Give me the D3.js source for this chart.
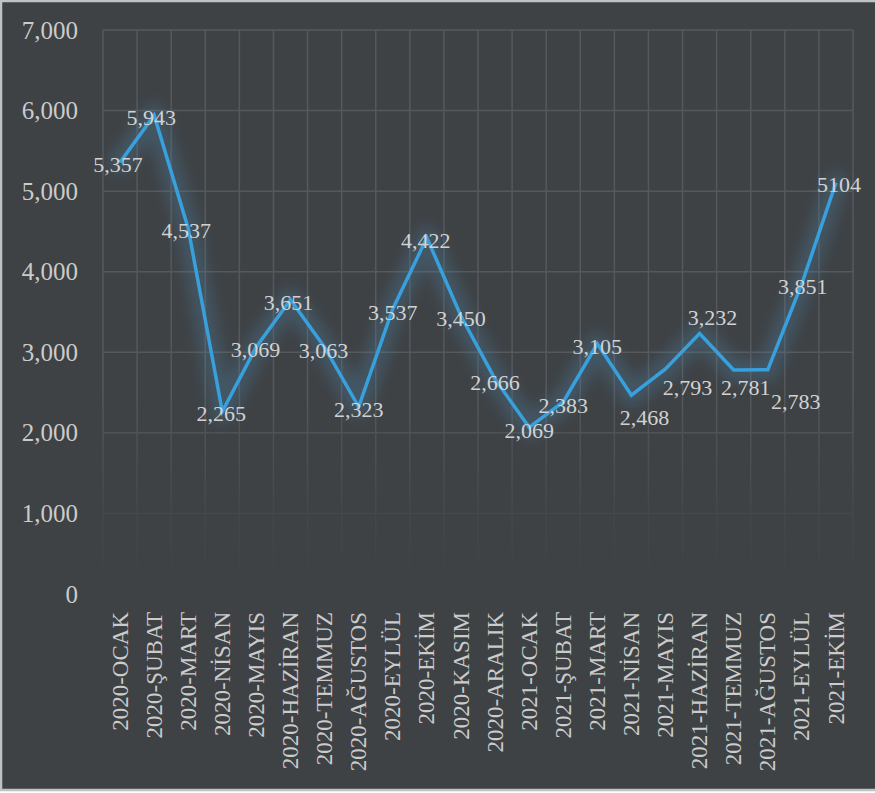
<!DOCTYPE html>
<html>
<head>
<meta charset="utf-8">
<script src="https://cdn.jsdelivr.net/npm/d3@7"></script>
<style>
  html, body { margin: 0; padding: 0; background: #fff; }
  svg { display: block; }
  text { font-family: "Liberation Serif", "Times New Roman", serif; }
</style>
</head>
<body>
<svg id="chart" width="875" height="793"></svg>
<script>
// ---- data ----
const categories = [
  "2020-OCAK", "2020-ŞUBAT", "2020-MART", "2020-NİSAN", "2020-MAYIS", "2020-HAZİRAN",
  "2020-TEMMUZ", "2020-AĞUSTOS", "2020-EYLÜL", "2020-EKİM", "2020-KASIM", "2020-ARALIK",
  "2021-OCAK", "2021-ŞUBAT", "2021-MART", "2021-NİSAN", "2021-MAYIS", "2021-HAZİRAN",
  "2021-TEMMUZ", "2021-AĞUSTOS", "2021-EYLÜL", "2021-EKİM"
];
const values = [
  5357, 5943, 4537, 2265, 3069, 3651, 3063, 2323, 3537, 4422, 3450, 2666,
  2069, 2383, 3105, 2468, 2793, 3232, 2781, 2783, 3851, 5104
];
const valueLabels = [
  "5,357", "5,943", "4,537", "2,265", "3,069", "3,651", "3,063", "2,323", "3,537", "4,422", "3,450", "2,666",
  "2,069", "2,383", "3,105", "2,468", "2,793", "3,232", "2,781", "2,783", "3,851", "5104"
];
const yTicks = [0, 1000, 2000, 3000, 4000, 5000, 6000, 7000];

// ---- layout (label nudges, in px) ----
const labelOffsets = [
  [-2, 2], [-3, 2], [-2, 2], [-1, 2], [-1, 3], [-2, 2], [-1, 3], [0, 2], [0, 3], [-1, 3], [0, 2], [0, 3],
  [0, 3], [0, 3], [0, 2], [13, 22], [22, 18], [13, -16], [12, 17], [28, 32], [1, 3], [3, 2]
];

const W = 875, H = 793;
const plot = { left: 103, right: 853, top: 30, bottom: 594 };
const svg = d3.select("#chart");

const defs = svg.append("defs");
const fade = defs.append("linearGradient")
  .attr("id", "fadeGrad").attr("gradientUnits", "userSpaceOnUse")
  .attr("x1", 0).attr("y1", plot.top).attr("x2", 0).attr("y2", plot.bottom);
fade.append("stop").attr("offset", "0%").attr("stop-color", "#fff").attr("stop-opacity", 1);
fade.append("stop").attr("offset", "64%").attr("stop-color", "#fff").attr("stop-opacity", 1);
fade.append("stop").attr("offset", "86%").attr("stop-color", "#fff").attr("stop-opacity", 0.25);
fade.append("stop").attr("offset", "100%").attr("stop-color", "#fff").attr("stop-opacity", 0);
defs.append("mask").attr("id", "fadeMask")
  .append("rect").attr("x", 0).attr("y", 0).attr("width", W).attr("height", H)
  .attr("fill", "url(#fadeGrad)");

const glow = defs.append("filter").attr("id", "glow")
  .attr("x", "-20%").attr("y", "-20%").attr("width", "140%").attr("height", "140%");
glow.append("feGaussianBlur").attr("stdDeviation", 7);

// background + frame
svg.append("rect").attr("x", 0).attr("y", 0).attr("width", W).attr("height", H).attr("fill", "#ffffff");
svg.append("rect").attr("x", 1).attr("y", 1).attr("width", W + 10).attr("height", 789)
  .attr("fill", "#3e4245").attr("stroke", "#c2c2c2").attr("stroke-width", 2.5);

const x = d3.scaleBand().domain(categories).range([plot.left, plot.right]).padding(0);
const y = d3.scaleLinear().domain([0, 7000]).range([plot.bottom, plot.top]);

// grid
const grid = svg.append("g").attr("mask", "url(#fadeMask)")
  .attr("stroke", "#56595c").attr("stroke-width", 1.5);
grid.selectAll("line.h").data(yTicks).join("line")
  .attr("x1", plot.left).attr("x2", plot.right)
  .attr("y1", d => y(d)).attr("y2", d => y(d));
const vlines = categories.map(c => x(c)).concat([x(categories[categories.length - 1]) + x.bandwidth()]);
grid.selectAll("line.v").data(vlines).join("line")
  .attr("x1", d => d).attr("x2", d => d)
  .attr("y1", plot.top).attr("y2", plot.bottom);

// y axis labels
const yAxis = d3.axisLeft(y).tickValues(yTicks).tickSize(0).tickPadding(0)
  .tickFormat(d3.format(","));
const gy = svg.append("g").attr("transform", `translate(78,0)`).call(yAxis);
gy.select(".domain").remove();
gy.selectAll("text").attr("fill", "#cbcbcb").attr("font-size", 25)
  .attr("font-family", "'Liberation Serif', 'Times New Roman', serif");

// x axis labels
const xAxis = d3.axisBottom(x).tickSize(0).tickPadding(0);
const gx = svg.append("g").attr("transform", `translate(0,612)`).call(xAxis);
gx.select(".domain").remove();
gx.selectAll("text")
  .attr("fill", "#cbcbcb").attr("font-size", 23)
  .attr("font-family", "'Liberation Serif', 'Times New Roman', serif")
  .attr("text-anchor", "end")
  .attr("transform", "rotate(-90)")
  .attr("x", 0).attr("y", 0).attr("dy", "0.33em");

// line
const pts = values.map((v, i) => [x(categories[i]) + x.bandwidth() / 2, y(v)]);
const line = d3.line();
svg.append("path").attr("d", line(pts)).attr("fill", "none")
  .attr("stroke", "#4f7fa6").attr("stroke-opacity", 0.32).attr("stroke-width", 22)
  .attr("stroke-linejoin", "round").attr("stroke-linecap", "round").attr("filter", "url(#glow)");
svg.append("path").attr("d", line(pts)).attr("fill", "none")
  .attr("stroke", "#38a0dc").attr("stroke-width", 3.5)
  .attr("stroke-linejoin", "miter");

// data labels
svg.append("g").selectAll("text").data(values).join("text")
  .attr("x", (d, i) => pts[i][0] + labelOffsets[i][0])
  .attr("y", (d, i) => pts[i][1] + labelOffsets[i][1])
  .attr("dy", "0.35em")
  .attr("text-anchor", "middle")
  .attr("fill", "#d2d2d2").attr("font-size", 22)
  .text((d, i) => valueLabels[i]);
</script>
</body>
</html>
